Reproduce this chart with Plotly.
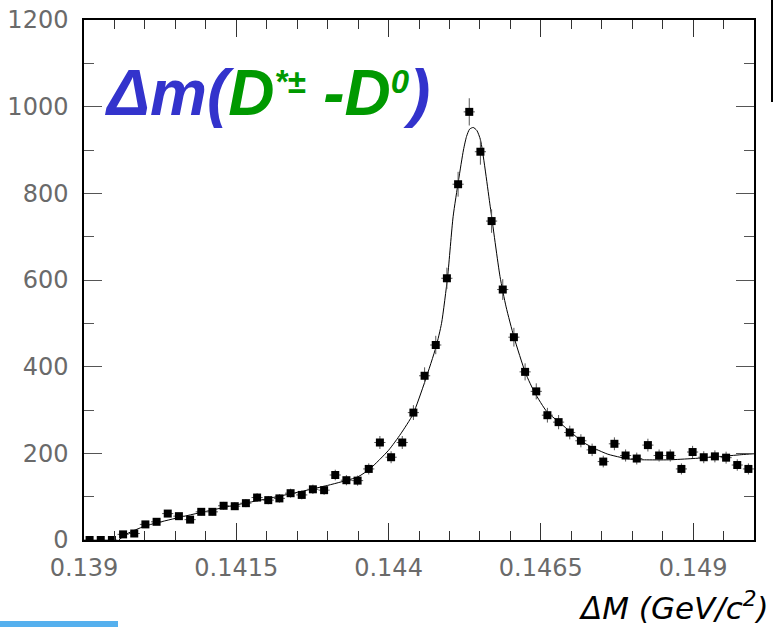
import plotly.graph_objects as go

# ---- data ----
bin_centers = [
    0.139092, 0.139275, 0.139458, 0.139642, 0.139825, 0.140008, 0.140192, 0.140375,
    0.140558, 0.140742, 0.140925, 0.141108, 0.141292, 0.141475, 0.141658, 0.141842,
    0.142025, 0.142208, 0.142392, 0.142575, 0.142758, 0.142942, 0.143125, 0.143308,
    0.143492, 0.143675, 0.143858, 0.144042, 0.144225, 0.144408, 0.144592, 0.144775,
    0.144958, 0.145142, 0.145325, 0.145508, 0.145692, 0.145875, 0.146058, 0.146242,
    0.146425, 0.146608, 0.146792, 0.146975, 0.147158, 0.147342, 0.147525, 0.147708,
    0.147892, 0.148075, 0.148258, 0.148442, 0.148625, 0.148808, 0.148992, 0.149175,
    0.149358, 0.149542, 0.149725, 0.149908,
]
counts = [
    0, 0, 0, 13, 15, 36, 42, 61, 55, 47, 65, 65, 79, 78, 85, 98,
    92, 96, 108, 104, 117, 115, 150, 138, 137, 164, 225, 191, 225, 294, 379, 450,
    604, 821, 988, 896, 736, 578, 468, 388, 343, 288, 272, 248, 229, 208, 181, 222,
    195, 188, 219, 195, 195, 164, 203, 191, 193, 190, 173, 164,
]
half_bin = 0.0000917

fit_x = [
    0.13957, 0.13970, 0.14000, 0.14050, 0.14100, 0.14150, 0.14200, 0.14250,
    0.14300, 0.14350, 0.14370, 0.14400, 0.14420, 0.14440, 0.14460, 0.14478,
    0.14487, 0.14497, 0.14506, 0.14515, 0.14523, 0.14528, 0.14533, 0.14539,
    0.14545, 0.14551, 0.14567, 0.14583, 0.14593, 0.14606, 0.14625, 0.14640,
    0.14660, 0.14680, 0.14700, 0.14720, 0.14740, 0.14760, 0.14780, 0.14800,
    0.14820, 0.14860, 0.14900, 0.14940, 0.14980, 0.15000,
]
fit_y = [
    0, 14, 32, 50, 66, 81, 95, 110,
    126, 146, 165, 207, 245, 290, 367, 446,
    500, 608, 746, 831, 900, 931, 948, 952,
    945, 923, 769, 608, 538, 468, 385, 340,
    296, 272, 248, 225, 210, 198, 191, 186,
    185, 185, 188, 192, 197, 199,
]

x_tick_vals = [0.139, 0.1415, 0.144, 0.1465, 0.149]
x_tick_text = ["0.139", "0.1415", "0.144", "0.1465", "0.149"]
y_tick_vals = [0, 200, 400, 600, 800, 1000, 1200]

W, H = 774, 627
L, R, T, B = 84, 20, 20, 87
pw, ph = W - L - R, H - T - B


def px(xp):
    return (xp - L) / pw


def py(yp):
    return (H - B - yp) / ph


fig = go.Figure()

fig.add_trace(go.Scatter(
    x=fit_x, y=fit_y, mode="lines",
    line=dict(color="black", width=1, shape="spline", smoothing=0.6),
    hoverinfo="skip", showlegend=False,
))

fig.add_trace(go.Scatter(
    x=bin_centers, y=counts, mode="markers",
    marker=dict(symbol="square", size=8, color="black"),
    error_y=dict(type="sqrt", color="#555555", thickness=1, width=0),
    error_x=dict(type="constant", value=half_bin, color="#555555", thickness=1, width=0),
    showlegend=False,
))

tickfont = dict(family="DejaVu Sans", size=24, color="#6a6a6a")

fig.update_xaxes(
    range=[0.139, 0.150], tickmode="array", tickvals=x_tick_vals, ticktext=x_tick_text,
    ticks="inside", ticklen=17, tickwidth=1.2, tickcolor="#333333",
    minor=dict(dtick=0.0005, tick0=0.139, ticks="inside", ticklen=9, tickwidth=1.2, tickcolor="#333333"),
    showline=True, linecolor="black", linewidth=1.5, mirror="ticks",
    showgrid=False, zeroline=False, tickfont=tickfont, ticklabelstandoff=5,
    automargin=False,
)
fig.update_yaxes(
    range=[0, 1200], tickmode="array", tickvals=y_tick_vals,
    ticks="inside", ticklen=18, tickwidth=1.2, tickcolor="#555555",
    minor=dict(dtick=100, tick0=0, ticks="inside", ticklen=10, tickwidth=1.2, tickcolor="#555555"),
    showline=True, linecolor="black", linewidth=1.5, mirror="ticks",
    showgrid=False, zeroline=False, tickfont=tickfont, ticklabelstandoff=9,
    automargin=False,
)

blue = "#3333cc"
green = "#009900"
sup_style = "font-size:33px;baseline-shift:22px"
title_html = (
    f"<b><i><span style='color:{blue}'>\u0394m(</span>"
    f"<span style='color:{green}'>D</span>"
    f"<span style='color:{green};{sup_style}'>*\u00b1</span>"
    f"<span style='color:{green}'> -D</span>"
    f"<span style='color:{green};{sup_style}'>0</span>"
    f"<span style='color:{blue}'>)</span></i></b>"
)
fig.add_annotation(
    x=px(103), y=py(93), xref="paper", yref="paper", xanchor="left", yanchor="middle",
    text=title_html, showarrow=False, font=dict(family="Liberation Sans", size=64, color=blue),
)
fig.add_annotation(
    x=px(771), y=py(606), xref="paper", yref="paper", xanchor="right", yanchor="middle",
    text="<i>\u0394M (GeV/c<sup>2</sup>)</i>", showarrow=False,
    font=dict(family="DejaVu Sans", size=31, color="black"),
)

# decorative elements at the page edges
fig.add_shape(type="rect", xref="paper", yref="paper",
              x0=px(0), x1=px(118), y0=py(627), y1=py(621),
              line=dict(width=0), fillcolor="#55b0ee", layer="above")
fig.add_shape(type="line", xref="paper", yref="paper",
              x0=px(772), x1=px(772), y0=py(0), y1=py(102),
              line=dict(color="black", width=2))

fig.update_layout(
    width=W, height=H, margin=dict(l=L, r=R, t=T, b=B, autoexpand=False),
    paper_bgcolor="white", plot_bgcolor="white",
    font=dict(family="DejaVu Sans"),
)

fig.write_html(
    "out.html",
    config={"displayModeBar": False},
    post_script="document.body.style.margin='0px';document.body.style.overflow='hidden';",
)
